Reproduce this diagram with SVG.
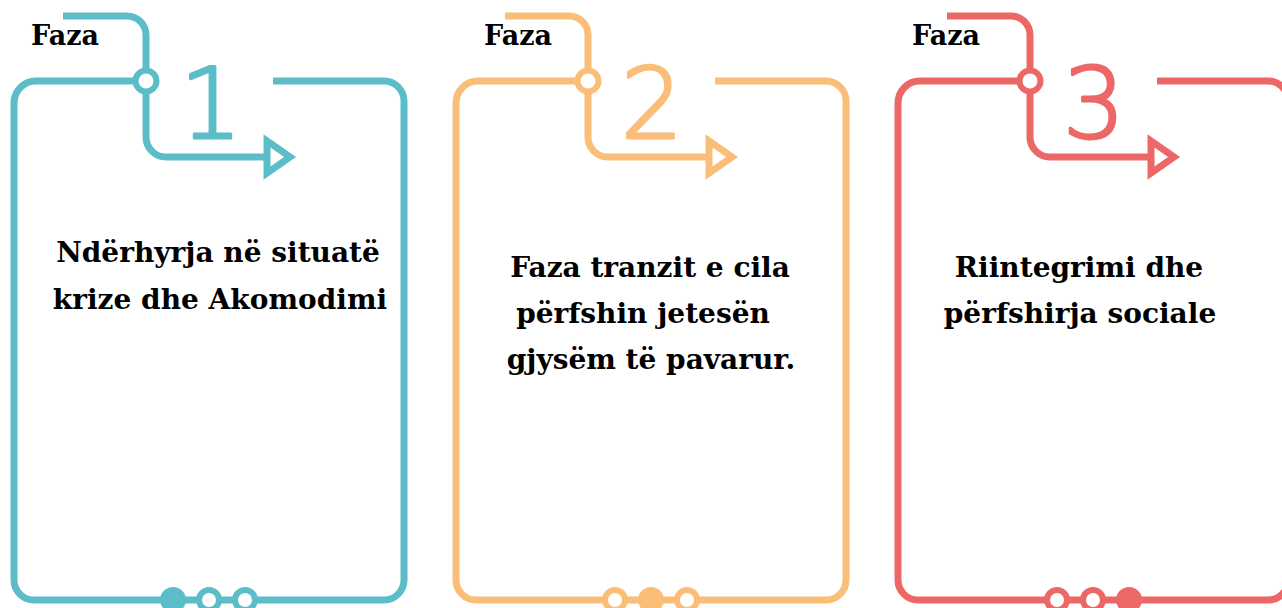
<svg xmlns="http://www.w3.org/2000/svg" width="1282" height="608" viewBox="0 0 1282 608">
<style>
.t1{stroke:#5BBDC8;fill:#5BBDC8}
.t2{stroke:#FABE78;fill:#FABE78}
.t3{stroke:#EC6867;fill:#EC6867}
.ln{fill:none;stroke-width:7;stroke-linecap:butt;stroke-linejoin:round}
.ring{fill:#fff;stroke-width:6}
.arr{fill:#fff;stroke-width:7;stroke-linejoin:miter}
.dot{stroke:none}
.num{font-family:"DejaVu Sans",sans-serif;font-weight:200;font-size:98px;text-anchor:middle;stroke-width:3;stroke-linejoin:round}
.lbl{font-family:"DejaVu Serif",serif;font-weight:bold;font-size:27px;fill:#000;stroke:none}
.body{font-family:"DejaVu Serif",serif;font-weight:bold;font-size:28px;fill:#000;stroke:none;text-anchor:middle}
</style>
<defs>
<g id="frame">
<path class="ln" d="M135 81H36A22 22 0 0 0 14 103V580A20 20 0 0 0 34 600H384A20 20 0 0 0 404 580V101A20 20 0 0 0 384 81H273"/>
<path class="ln" d="M63 16H127A19 19 0 0 1 146 35V71"/>
<path class="ln" d="M146 91V137A20 20 0 0 0 166 157H267"/>
<circle class="ring" cx="146" cy="81" r="10.5"/>
<polygon class="arr" points="267,141 267,173 290,157"/>
</g>
</defs>
<g id="connectors"></g>
<g id="phase1" class="t1">
<use href="#frame"/>
<circle class="dot" cx="173" cy="600" r="13"/>
<circle class="ring" cx="209" cy="600" r="10"/>
<circle class="ring" cx="245" cy="600" r="10"/>
<text class="num" x="211" y="138">1</text>
<text class="lbl" x="31" y="45">Faza</text>
<text class="body" x="218" y="262">Ndërhyrja në situatë</text>
<text class="body" x="220" y="309">krize dhe Akomodimi</text>
</g>
<g id="phase2" class="t2">
<use href="#frame" transform="translate(442,0)"/>
<circle class="ring" cx="615" cy="600" r="10"/>
<circle class="dot" cx="651" cy="600" r="13"/>
<circle class="ring" cx="687" cy="600" r="10"/>
<text class="num" x="652" y="138">2</text>
<text class="lbl" x="484" y="45">Faza</text>
<text class="body" x="650" y="277">Faza tranzit e cila</text>
<text class="body" x="643" y="323">përfshin jetesën</text>
<text class="body" x="651" y="369">gjysëm të pavarur.</text>
</g>
<g id="phase3" class="t3">
<use href="#frame" transform="translate(884,0)"/>
<circle class="ring" cx="1057" cy="600" r="10"/>
<circle class="ring" cx="1093" cy="600" r="10"/>
<circle class="dot" cx="1129" cy="600" r="13"/>
<text class="num" x="1094" y="138">3</text>
<text class="lbl" x="912" y="45">Faza</text>
<text class="body" x="1079" y="277">Riintegrimi dhe</text>
<text class="body" x="1080" y="323">përfshirja sociale</text>
</g>
</svg>
